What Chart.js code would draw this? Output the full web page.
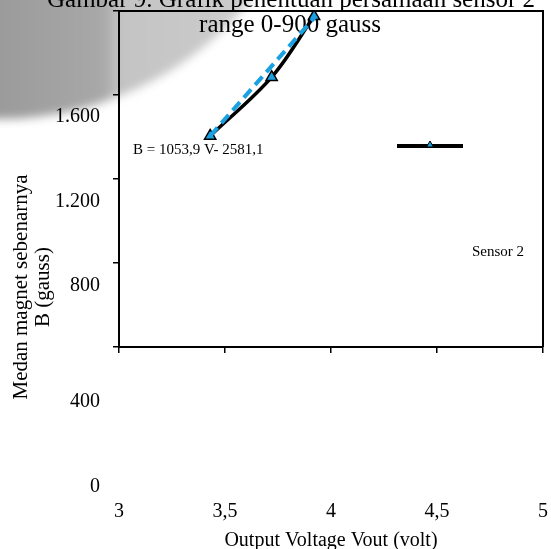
<!DOCTYPE html>
<html>
<head>
<meta charset="utf-8">
<title>Sensor 2</title>
<script src="https://cdn.jsdelivr.net/npm/chart.js@4.4.1/dist/chart.umd.min.js"></script>
<style>
  html, body { margin: 0; padding: 0; background: #fff; }
  canvas { display: block; }
</style>
</head>
<body>
<canvas id="sensorChart" width="551" height="549"></canvas>
<script>
// values
const voltage = [3.43, 3.72, 3.92];
const fieldB = [1005, 1285, 1575];
const trendVoltage = [3.43, 3.93];
const trendB = [1005, 1578];
const xTickValues = [3, 3.5, 4, 4.5, 5];
const yTickValues = [0, 400, 800, 1200, 1600];

const titleLines = ['Gambar 9. Grafik penentuan persamaan sensor 2', 'range 0-900 gauss'];
const yTitleLines = ['Medan magnet sebenarnya', 'B (gauss)'];
const xTitle = 'Output Voltage Vout (volt)';
const equationText = 'B = 1053,9 V- 2581,1';
const seriesName = 'Sensor 2';

const serif = '"Liberation Serif", "Times New Roman", serif';
const blue = '#1ba1e2';

function fmtB(v) {
  return v >= 1000 ? String(v).replace(/(\d)(\d{3})$/, '$1.$2') : String(v);
}

// grey smudge from the scan in the upper left corner
const scanShade = {
  id: 'scanShade',
  beforeDraw(chart) {
    const ctx = chart.ctx;
    ctx.save();
    ctx.filter = 'blur(5px)';
    ctx.beginPath();
    ctx.arc(0, -205, 324, 0, Math.PI * 2);
    const g = ctx.createLinearGradient(0, 0, 270, 0);
    g.addColorStop(0, '#9b9b9b');
    g.addColorStop(0.38, '#a8a8a8');
    g.addColorStop(0.45, '#c4c4c4');
    g.addColorStop(1, '#cdcdcd');
    ctx.fillStyle = g;
    ctx.fill();
    ctx.restore();
  }
};

const annotations = {
  id: 'annotations',
  beforeDatasetsDraw(chart) {
    const { ctx, chartArea: a, scales: { y } } = chart;
    ctx.save();

    // top and right edges of the plot box
    ctx.strokeStyle = '#000';
    ctx.lineWidth = 2;
    ctx.beginPath();
    ctx.moveTo(a.left, a.top);
    ctx.lineTo(a.right, a.top);
    ctx.lineTo(a.right, a.bottom);
    ctx.stroke();

    ctx.fillStyle = '#000';

    // title, partly cut off at the top
    ctx.font = '25px ' + serif;
    ctx.textAlign = 'center';
    ctx.textBaseline = 'alphabetic';
    ctx.fillText(titleLines[0], 291, 7);
    ctx.fillText(titleLines[1], 290, 32);

    // y tick labels sit lower than their tick marks in the original
    const shift = [140, 139, 107, 107, 106];
    ctx.font = '20px ' + serif;
    ctx.textAlign = 'right';
    ctx.textBaseline = 'middle';
    yTickValues.forEach((v, i) => {
      ctx.fillText(fmtB(v), a.left - 19, y.getPixelForValue(v) + shift[i]);
    });

    // y axis title
    ctx.save();
    ctx.translate(32, 287);
    ctx.rotate(-Math.PI / 2);
    ctx.font = '21px ' + serif;
    ctx.textAlign = 'center';
    ctx.fillText(yTitleLines[0], 0, -11);
    ctx.fillText(yTitleLines[1], 0, 11);
    ctx.restore();

    // trendline equation
    ctx.font = '15px ' + serif;
    ctx.textAlign = 'left';
    ctx.fillText(equationText, a.left + 14, 150);

    // detached legend: sample line + marker, label further down
    ctx.lineWidth = 4;
    ctx.beginPath();
    ctx.moveTo(397, 146);
    ctx.lineTo(463, 146);
    ctx.stroke();
    ctx.fillStyle = blue;
    ctx.lineWidth = 1;
    Chart.helpers.drawPoint(ctx, { pointStyle: 'triangle', radius: 4, borderWidth: 1 }, 430, 145);
    ctx.fillStyle = '#000';
    ctx.font = '15px ' + serif;
    ctx.fillText(seriesName, 472, 252);

    ctx.restore();
  }
};

const axisGrid = {
  drawOnChartArea: false,
  drawTicks: true,
  tickLength: 6,
  color: '#000',
  lineWidth: 1.5
};

new Chart(document.getElementById('sensorChart'), {
  type: 'scatter',
  data: {
    datasets: [
      {
        label: 'Linear (' + seriesName + ')',
        data: trendVoltage.map((v, i) => ({ x: v, y: trendB[i] })),
        showLine: true,
        borderColor: blue,
        borderWidth: 4,
        borderDash: [11, 6],
        pointRadius: 0
      },
      {
        label: seriesName,
        data: voltage.map((v, i) => ({ x: v, y: fieldB[i] })),
        showLine: true,
        tension: 0.35,
        borderColor: '#000',
        borderWidth: 3.5,
        pointStyle: 'triangle',
        pointRadius: 6.5,
        pointBackgroundColor: blue,
        pointBorderColor: '#000',
        pointBorderWidth: 1.5
      }
    ]
  },
  options: {
    responsive: false,
    animation: false,
    layout: { padding: { top: 11, right: -4, left: 0, bottom: 0 } },
    plugins: {
      legend: { display: false },
      tooltip: { enabled: false }
    },
    scales: {
      x: {
        type: 'linear',
        min: 3,
        max: 5,
        afterBuildTicks: s => { s.ticks = xTickValues.map(v => ({ value: v })); },
        afterFit: s => {
          s.height = 202;
          // big label padding would otherwise squeeze the plot sideways
          s.paddingLeft = 0;
          s.paddingRight = 0;
        },
        ticks: {
          callback: v => String(v).replace('.', ','),
          font: { family: serif, size: 20 },
          color: '#000',
          padding: 147,
          maxRotation: 0,
          autoSkip: false
        },
        grid: axisGrid,
        border: { color: '#000', width: 2 },
        title: {
          display: true,
          text: xTitle,
          font: { family: serif, size: 20 },
          color: '#000',
          padding: { top: 0, bottom: -4 }
        }
      },
      y: {
        min: 0,
        max: 1600,
        afterBuildTicks: s => { s.ticks = yTickValues.map(v => ({ value: v })); },
        afterFit: s => { s.width = 119; },
        ticks: { display: false },
        grid: axisGrid,
        border: { color: '#000', width: 2 }
      }
    }
  },
  plugins: [scanShade, annotations]
});
</script>
</body>
</html>
